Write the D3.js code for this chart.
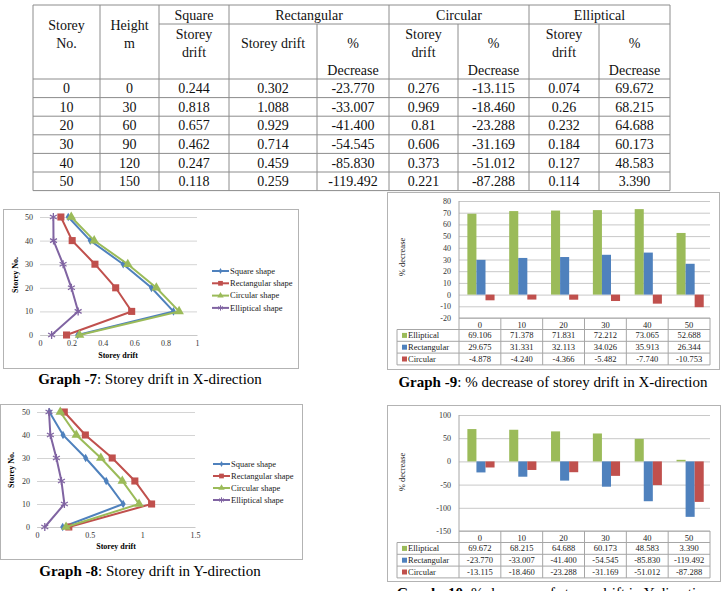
<!DOCTYPE html>
<html>
<head>
<meta charset="utf-8">
<script src="https://cdn.jsdelivr.net/npm/d3@7"></script>
<style>
  body { margin: 0; background: #fff; }
  svg { display: block; font-family: 'Liberation Serif', 'Times New Roman', serif; }
</style>
</head>
<body>
<svg id="pagina" width="722" height="591"></svg>
<script>
const andares = [0, 10, 20, 30, 40, 50];
const alturas = [0, 30, 60, 90, 120, 150];

// direcao Y (tabela, Graph -8 e Graph -10)
const driftQuadradoY = [0.244, 0.818, 0.657, 0.462, 0.247, 0.118];
const driftRetangularY = [0.302, 1.088, 0.929, 0.714, 0.459, 0.259];
const driftCircularY = [0.276, 0.969, 0.81, 0.606, 0.373, 0.221];
const driftElipticoY = [0.074, 0.26, 0.232, 0.184, 0.127, 0.114];
const decrRetangularY = [-23.770, -33.007, -41.400, -54.545, -85.830, -119.492];
const decrCircularY = [-13.115, -18.460, -23.288, -31.169, -51.012, -87.288];
const decrElipticoY = [69.672, 68.215, 64.688, 60.173, 48.583, 3.390];

// direcao X (Graph -7 e Graph -9)
const driftQuadradoX = [0.240, 0.850, 0.710, 0.530, 0.320, 0.180];
const driftRetangularX = [0.169, 0.584, 0.482, 0.350, 0.205, 0.133];
const driftCircularX = [0.252, 0.886, 0.741, 0.559, 0.345, 0.199];
const driftElipticoX = [0.074, 0.243, 0.200, 0.147, 0.086, 0.085];
const decrElipticoX = [69.106, 71.378, 71.831, 72.212, 73.065, 52.688];
const decrRetangularX = [29.675, 31.331, 32.113, 34.026, 35.913, 26.344];
const decrCircularX = [-4.878, -4.240, -4.366, -5.482, -7.740, -10.753];

const ticksDrift7 = [0, 0.2, 0.4, 0.6, 0.8, 1];
const ticksDrift8 = [0, 0.5, 1, 1.5];
const ticksDecr9 = [-20, -10, 0, 10, 20, 30, 40, 50, 60, 70, 80];
const ticksDecr10 = [-150, -100, -50, 0, 50, 100];

const corVerde = '#9bbb59', corAzul = '#4f81bd', corVermelha = '#c0504d', corRoxa = '#8064a2';

const svg = d3.select('#pagina');
svg.append('rect').attr('width', 722).attr('height', 591).attr('fill', '#fff');

function criaTabela() {
  const colunas = [33, 100, 159, 229, 317, 389, 458, 529, 599, 670];
  const topo = 5, meio = 24, baseCab = 79, alturaLinha = 18.6;
  const cor = '#8c8c8c';
  const t = svg.append('g').attr('font-size', 14).attr('fill', '#111');

  const linhas = andares.map((a, i) => [
    String(a), String(alturas[i]), String(driftQuadradoY[i]),
    String(driftRetangularY[i]), decrRetangularY[i].toFixed(3),
    String(driftCircularY[i]), decrCircularY[i].toFixed(3),
    String(driftElipticoY[i]), decrElipticoY[i].toFixed(3)
  ]);
  const base = baseCab + alturaLinha * linhas.length;

  const traco = (x1, y1, x2, y2) => t.append('line')
    .attr('x1', x1).attr('y1', y1).attr('x2', x2).attr('y2', y2)
    .attr('stroke', cor).attr('stroke-width', 1);

  // horizontais
  traco(colunas[0], topo, colunas[9], topo);
  traco(colunas[2], meio, colunas[9], meio);
  linhas.forEach((l, i) => traco(colunas[0], baseCab + alturaLinha * i, colunas[9], baseCab + alturaLinha * i));
  traco(colunas[0], base, colunas[9], base);
  // verticais
  colunas.forEach((c, i) => {
    const interna = [4, 6, 8].includes(i);
    traco(c, interna ? meio : topo, c, base);
  });

  const texto = (x, y, s) => t.append('text').attr('x', x).attr('y', y)
    .attr('text-anchor', 'middle').attr('dy', '0.35em').text(s);
  const centro = i => (colunas[i] + colunas[i + 1]) / 2;

  texto(centro(0), 25, 'Storey'); texto(centro(0), 43, 'No.');
  texto(centro(1), 25, 'Height'); texto(centro(1), 43, 'm');
  texto(centro(2), 15, 'Square');
  texto(centro(2), 34, 'Storey'); texto(centro(2), 52, 'drift');
  texto((colunas[3] + colunas[5]) / 2, 15, 'Rectangular');
  texto(centro(3), 43, 'Storey drift');
  texto(centro(4), 43, '%'); texto(centro(4), 70, 'Decrease');
  texto((colunas[5] + colunas[7]) / 2, 15, 'Circular');
  texto(centro(5), 34, 'Storey'); texto(centro(5), 52, 'drift');
  texto(centro(6), 43, '%'); texto(centro(6), 70, 'Decrease');
  texto((colunas[7] + colunas[9]) / 2, 15, 'Elliptical');
  texto(centro(7), 34, 'Storey'); texto(centro(7), 52, 'drift');
  texto(centro(8), 43, '%'); texto(centro(8), 70, 'Decrease');

  linhas.forEach((l, i) => {
    l.forEach((v, j) => texto(centro(j), baseCab + alturaLinha * (i + .5), v));
  });
}

function criaCaixa(g, caixa) {
  g.append('rect')
    .attr('x', caixa[0] + .5).attr('y', caixa[1] + .5)
    .attr('width', caixa[2] - caixa[0]).attr('height', caixa[3] - caixa[1])
    .attr('fill', '#fff').attr('stroke', '#b3b3b3');
}

function criaGraficoLinhas(p) {
  const g = svg.append('g');
  criaCaixa(g, p.caixa);

  const x = d3.scaleLinear().domain(p.dominioX).range([p.esquerda, p.direita]);
  const y = d3.scaleLinear().domain([0, 50]).range([p.inferior, p.superior]);

  const grade = d3.axisLeft(y).tickValues(andares).tickSize(-(p.direita - p.esquerda)).tickPadding(7).tickFormat(d => String(d));
  g.append('g').attr('transform', `translate(${p.esquerda}, 0)`).call(grade)
    .call(e => e.select('.domain').remove())
    .call(e => e.selectAll('line').attr('stroke', '#d4d4d4'))
    .call(e => e.selectAll('text').attr('fill', '#333'))
    .attr('font-family', null).attr('font-size', 8);

  const eixoX = d3.axisBottom(x).tickValues(p.ticksX).tickSize(0).tickPadding(5).tickFormat(d => String(d));
  g.append('g').attr('transform', `translate(0, ${p.inferior})`).call(eixoX)
    .call(e => e.select('.domain').attr('stroke', '#c8c8c8'))
    .call(e => e.selectAll('text').attr('fill', '#333'))
    .attr('font-family', null).attr('font-size', 8);

  const linha = d3.line().x(d => x(d[0])).y(d => y(d[1]));
  p.series.forEach(s => {
    const pontos = s.valores.map((v, i) => [v, andares[i]]);
    g.append('path').attr('d', linha(pontos))
      .attr('fill', 'none').attr('stroke', s.cor).attr('stroke-width', 2);
    g.selectAll(null).data(pontos).enter().append('path')
      .attr('transform', d => `translate(${x(d[0])}, ${y(d[1])})`)
      .attr('d', d3.symbol(s.simbolo, s.tamanho))
      .attr('fill', s.traco ? 'none' : s.cor)
      .attr('stroke', s.cor).attr('stroke-width', s.traco ? 1.3 : 0);
  });

  const legenda = g.append('g').attr('transform', `translate(${p.legenda[0]}, ${p.legenda[1]})`);
  p.series.forEach((s, i) => {
    const item = legenda.append('g').attr('transform', `translate(0, ${i * p.legenda[2]})`);
    item.append('line').attr('x1', 0).attr('x2', 17).attr('stroke', s.cor).attr('stroke-width', 2);
    item.append('path').attr('transform', 'translate(8.5, 0)')
      .attr('d', d3.symbol(s.simbolo, s.tamanho * .45))
      .attr('fill', s.traco ? 'none' : s.cor)
      .attr('stroke', s.cor).attr('stroke-width', s.traco ? 1 : 0);
    item.append('text').attr('x', 18).attr('dy', '0.32em')
      .attr('font-size', 8.5).attr('fill', '#222').text(s.nome);
  });

  g.append('text')
    .attr('transform', `translate(${p.tituloY[0]}, ${p.tituloY[1]}) rotate(-90)`)
    .attr('text-anchor', 'middle').attr('font-size', 8).attr('font-weight', 'bold')
    .text('Storey No.');
  g.append('text').attr('x', p.tituloX[0]).attr('y', p.tituloX[1])
    .attr('text-anchor', 'middle').attr('dy', '0.35em')
    .attr('font-size', 8).attr('font-weight', 'bold').text('Storey drift');
}

function criaGraficoBarras(p) {
  const g = svg.append('g');
  criaCaixa(g, p.caixa);

  const x0 = d3.scaleBand().domain(andares).range([p.esquerda, p.direita]);
  const bw = x0.bandwidth();
  const x1 = d3.scaleBand().domain(p.series.map(s => s.nome)).range([bw * .2, bw * .85]);
  const y = d3.scaleLinear().domain(p.dominioY).range([p.inferior, p.superior]);

  const grade = d3.axisLeft(y).tickValues(p.ticksY).tickSize(-(p.direita - p.esquerda)).tickPadding(8).tickFormat(d => String(d));
  g.append('g').attr('transform', `translate(${p.esquerda}, 0)`).call(grade)
    .call(e => e.select('.domain').remove())
    .call(e => e.selectAll('line').attr('stroke', '#c8c8c8'))
    .call(e => e.selectAll('text').attr('fill', '#333'))
    .attr('font-family', null).attr('font-size', 8);
  g.append('line').attr('x1', p.esquerda).attr('x2', p.esquerda)
    .attr('y1', p.superior).attr('y2', p.inferior).attr('stroke', '#a6a6a6');

  p.series.forEach(s => {
    g.selectAll(null).data(s.valores).enter().append('rect')
      .attr('x', (d, i) => x0(andares[i]) + x1(s.nome))
      .attr('y', d => y(Math.max(0, d)))
      .attr('width', x1.bandwidth())
      .attr('height', d => Math.abs(y(d) - y(0)))
      .attr('fill', s.cor);
  });

  // tabela de dados
  const alturaCat = 11.5, alturaLinha = 11.8;
  const topoSeries = p.inferior + alturaCat;
  const fundo = topoSeries + alturaLinha * p.series.length;
  const cinza = '#a6a6a6';
  const traco = (x1, y1, x2, y2) => g.append('line')
    .attr('x1', x1).attr('y1', y1).attr('x2', x2).attr('y2', y2).attr('stroke', cinza);

  traco(p.esquerda, p.inferior, p.direita, p.inferior);
  andares.map(a => x0(a)).concat([p.direita]).forEach(b => traco(b, p.inferior, b, fundo));
  p.series.forEach((s, j) => traco(p.tabelaEsquerda, topoSeries + alturaLinha * j, p.direita, topoSeries + alturaLinha * j));
  traco(p.tabelaEsquerda, fundo, p.direita, fundo);
  traco(p.tabelaEsquerda, topoSeries, p.tabelaEsquerda, fundo);

  const tabela = g.append('g').attr('font-size', 8.5).attr('fill', '#222');
  andares.forEach(a => {
    tabela.append('text').attr('x', x0(a) + bw / 2).attr('y', p.inferior + alturaCat / 2 + 1)
      .attr('text-anchor', 'middle').attr('dy', '0.35em').text(String(a));
  });
  p.series.forEach((s, j) => {
    const yc = topoSeries + alturaLinha * (j + .5);
    tabela.append('rect').attr('x', p.tabelaEsquerda + 5).attr('y', yc - 2.5)
      .attr('width', 5).attr('height', 5).attr('fill', s.cor);
    tabela.append('text').attr('x', p.tabelaEsquerda + 11).attr('y', yc)
      .attr('dy', '0.35em').text(s.nome);
    s.valores.forEach((v, i) => {
      tabela.append('text').attr('x', x0(andares[i]) + bw / 2).attr('y', yc)
        .attr('text-anchor', 'middle').attr('dy', '0.35em').text(v.toFixed(3));
    });
  });

  g.append('text')
    .attr('transform', `translate(${p.tituloY[0]}, ${p.tituloY[1]}) rotate(-90)`)
    .attr('text-anchor', 'middle').attr('font-size', 8.5).attr('fill', '#222')
    .text('% decrease');
}

function criaLegendaFigura(x, y, numero, texto) {
  const t = svg.append('text').attr('x', x).attr('y', y)
    .attr('text-anchor', 'middle').attr('font-size', 15).attr('fill', '#000');
  t.append('tspan').attr('font-weight', 'bold').text(`Graph -${numero}`);
  t.append('tspan').text(`: ${texto}`);
}

const seriesLinhas = (q, r, c, e) => [
  { nome: 'Square shape', valores: q, cor: corAzul, simbolo: d3.symbolDiamond, tamanho: 22 },
  { nome: 'Rectangular shape', valores: r, cor: corVermelha, simbolo: d3.symbolSquare, tamanho: 50 },
  { nome: 'Circular shape', valores: c, cor: corVerde, simbolo: d3.symbolTriangle, tamanho: 40 },
  { nome: 'Elliptical shape', valores: e, cor: corRoxa, simbolo: d3.symbolAsterisk, tamanho: 45, traco: true }
];

const seriesBarras = (e, r, c) => [
  { nome: 'Elliptical', valores: e, cor: corVerde },
  { nome: 'Rectangular', valores: r, cor: corAzul },
  { nome: 'Circular', valores: c, cor: corVermelha }
];

criaTabela();

criaGraficoLinhas({
  caixa: [3, 209, 298, 368],
  esquerda: 40, direita: 197, superior: 217, inferior: 335,
  dominioX: [0, 1], ticksX: ticksDrift7,
  series: seriesLinhas(driftQuadradoX, driftRetangularX, driftCircularX, driftElipticoX),
  legenda: [212, 271, 12.3],
  tituloY: [18, 275], tituloX: [118, 355]
});
criaLegendaFigura(150, 384, 7, 'Storey drift in X-direction');

criaGraficoLinhas({
  caixa: [0, 404, 302, 559],
  esquerda: 37, direita: 195, superior: 412, inferior: 527,
  dominioX: [0, 1.5], ticksX: ticksDrift8,
  series: seriesLinhas(driftQuadradoY, driftRetangularY, driftCircularY, driftElipticoY),
  legenda: [213, 464, 12],
  tituloY: [14, 470], tituloX: [116, 546]
});
criaLegendaFigura(150, 576, 8, 'Storey drift in Y-direction');

criaGraficoBarras({
  caixa: [387, 192, 719, 369],
  esquerda: 459, direita: 710, superior: 201, inferior: 318, tabelaEsquerda: 397,
  dominioY: [-20, 80], ticksY: ticksDecr9,
  series: seriesBarras(decrElipticoX, decrRetangularX, decrCircularX),
  tituloY: [405, 257]
});
criaLegendaFigura(553, 387, 9, '% decrease of storey drift in X-direction');

criaGraficoBarras({
  caixa: [387, 405, 720, 581],
  esquerda: 459, direita: 710, superior: 415, inferior: 531, tabelaEsquerda: 397,
  dominioY: [-150, 100], ticksY: ticksDecr10,
  series: seriesBarras(decrElipticoY, decrRetangularY, decrCircularY),
  tituloY: [405, 472]
});
criaLegendaFigura(554, 598, 10, '% decrease of storey drift in Y-direction');
</script>
</body>
</html>
